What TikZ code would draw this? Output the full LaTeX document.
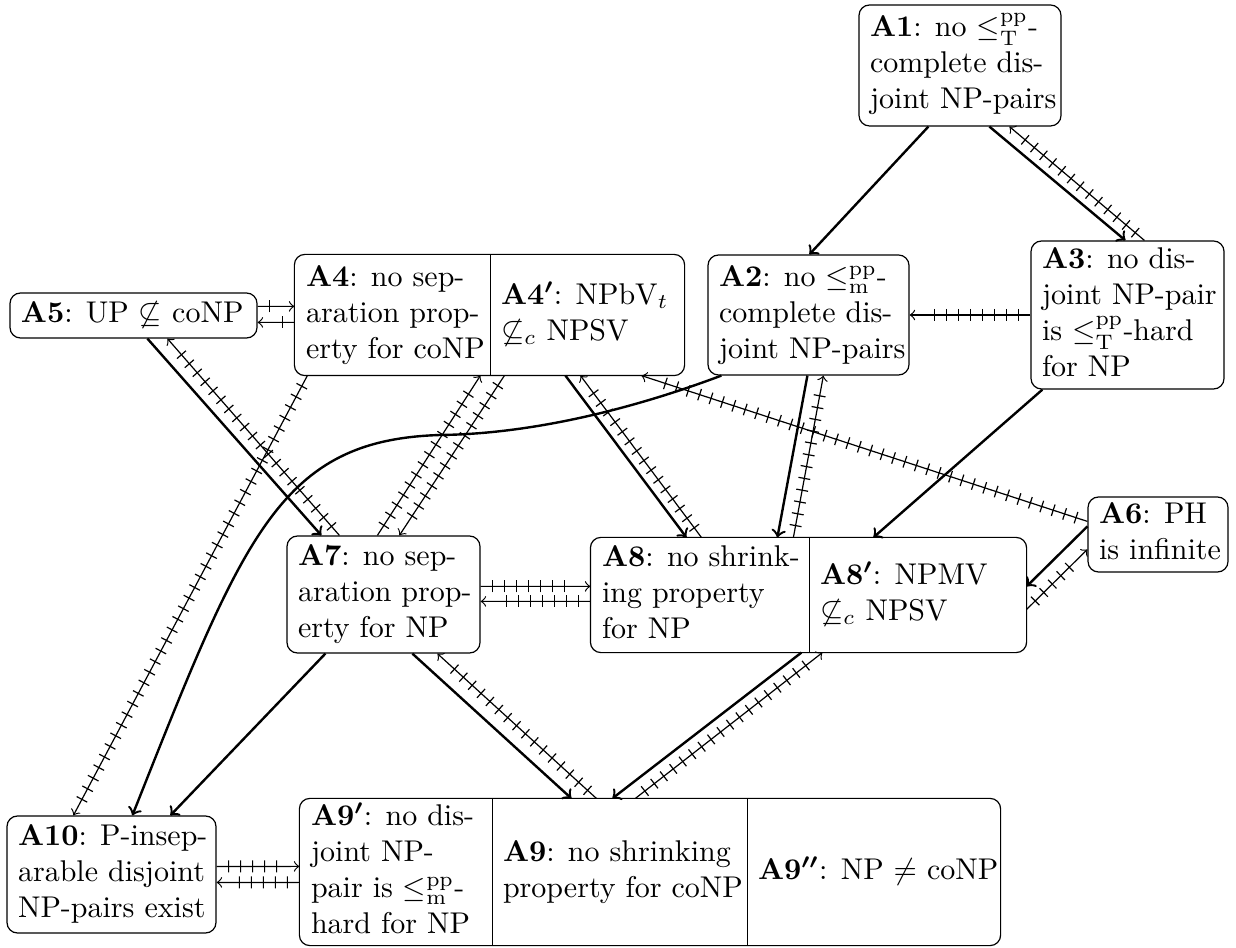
\documentclass[tikz,border=0pt]{standalone}
\usetikzlibrary{calc,decorations.markings}
\newcommand{\bt}[2]{\makebox[#1][l]{\begin{tabular}{@{}l@{}}#2\end{tabular}}}
\newcommand{\lepT}{\le^{\mathrm{pp}}_{\mathrm{T}}}
\newcommand{\lepm}{\le^{\mathrm{pp}}_{\mathrm{m}}}
\tikzset{
  box/.style={draw, rounded corners=3.5pt, inner xsep=3.67pt, inner ysep=0pt},
  part/.style={inner xsep=3.67pt, inner ysep=0pt},
  imp/.style={thick, ->},
  nimp/.style={thin, ->, postaction={decorate},
    decoration={markings, mark=between positions 4pt and -5pt step 4pt with {\draw[thin,-] (0,-2pt) -- (0,2pt);}}},
}
\begin{document}
\begin{tikzpicture}[x=0.33333pt,y=-0.33333pt]
\useasboundingbox (0,0) rectangle (1236,948);
% nodes
\node[box,minimum height=40.33pt] (A1) at (960,65.5) {\bt{60pt}{\textbf{A1}: no $\lepT$-\\complete dis-\\joint NP-pairs}};
\node[box,minimum height=40pt] (A2) at (808.5,315) {\bt{59.67pt}{\textbf{A2}: no $\lepm$-\\complete dis-\\joint NP-pairs}};
\node[box,minimum height=49.33pt] (A3) at (1127.5,315) {\bt{57pt}{\textbf{A3}: no dis-\\joint NP-pair\\is $\lepT$-hard\\for NP}};
\node[part,minimum height=40pt] (A4) at (392.5,315) {\bt{57.67pt}{\textbf{A4}: no sep-\\aration prop-\\erty for coNP}};
\node[part,minimum height=40pt] (A4p) at (587,315) {\bt{57.33pt}{\textbf{A4\boldmath$'$}: NPbV$_t$\\$\not\subseteq_c$ NPSV}};
\draw[rounded corners=3.5pt] (A4.north west) rectangle (A4p.south east);
\draw (A4.north east) -- (A4.south east);
\node[box,minimum height=15pt] (A5) at (133.5,315.5) {\bt{75pt}{\textbf{A5}: UP $\not\subseteq$ coNP}};
\node[box,minimum height=25pt] (A6) at (1158,534.5) {\bt{39.33pt}{\textbf{A6}: PH\\is infinite}};
\node[box,minimum height=39pt] (A7) at (383.5,594.5) {\bt{57pt}{\textbf{A7}: no sep-\\aration prop-\\erty for NP}};
\node[part,minimum height=38pt] (A8) at (700,595) {\bt{65.33pt}{\textbf{A8}: no shrink-\\ing property\\for NP}};
\node[part,minimum height=38pt] (A8p) at (917.5,595) {\bt{65pt}{\textbf{A8\boldmath$'$}: NPMV\\$\not\subseteq_c$ NPSV}};
\draw[rounded corners=3.5pt] (A8.north west) rectangle (A8p.south east);
\draw (A8.north east) -- (A8.south east);
\node[part,minimum height=48.67pt] (A9p) at (396,872) {\bt{56.67pt}{\textbf{A9\boldmath$'$}: no dis-\\joint NP-\\pair is $\lepm$-\\hard for NP}};
\node[part,minimum height=48.67pt] (A9) at (619.5,872) {\bt{77.67pt}{\textbf{A9}: no shrinking\\property for coNP}};
\node[part,minimum height=48.67pt] (A9pp) at (873.5,872) {\bt{77pt}{\textbf{A9\boldmath$''$}: NP $\neq$ coNP}};
\draw[rounded corners=3.5pt] (A9p.north west) rectangle (A9pp.south east);
\draw (A9p.north east) -- (A9p.south east);
\draw (A9.north east) -- (A9.south east);
\node[box,minimum height=39pt] (A10) at (111.5,874.5) {\bt{62.33pt}{\textbf{A10}: P-insep-\\arable disjoint\\NP-pairs exist}};
% connectors
\draw[imp] ($(A1.south west)+(70,0)$) -- ($(A2.north west)+(102,0)$);
\draw[imp] ($(A1.south west)+(131,0)$) -- ($(A3.north west)+(95,0)$);
\draw[nimp] ($(A3.north west)+(114,0)$) -- ($(A1.south west)+(151,0)$);
\draw[nimp] (A3.west) -- (A2.east);
\draw[imp] ($(A3.south west)+(12,0)$) -- ($(A8p.north west)+(65,0)$);
\draw[nimp] ($(A5.north east)+(0,14)$) -- ($(A4.north west)+(0,52)$);
\draw[nimp] ($(A4.north west)+(0,68)$) -- ($(A5.north east)+(0,30)$);
\draw[imp] ($(A5.south west)+(138,0)$) -- ($(A7.north west)+(35,0)$);
\draw[nimp] ($(A7.north west)+(53,0)$) -- ($(A5.south west)+(158,0)$);
\draw[nimp] ($(A4.south west)+(13,0)$) -- ($(A10.north west)+(67,0)$);
\draw[nimp] ($(A7.north west)+(91,0)$) -- ($(A4.south west)+(186,0)$);
\draw[nimp] ($(A4p.south west)+(15,0)$) -- ($(A7.north west)+(113,0)$);
\draw[imp] ($(A4p.south west)+(76,0)$) -- ($(A8.north west)+(96,0)$);
\draw[nimp] ($(A8.north west)+(111,0)$) -- ($(A4p.south west)+(91,0)$);
\draw[nimp] ($(A6.north west)+(0,25)$) -- ($(A4p.south west)+(152,0)$);
\coordinate (bend) at (440,435);
\draw[imp] ($(A2.south west)+(14,0)$) .. controls (630,410) and (530,434) .. (bend) .. controls (280,440) and (244,534) .. ($(A10.north west)+(126,0)$);
\draw[imp] ($(A2.south west)+(100,0)$) -- ($(A8.north west)+(187,0)$);
\draw[nimp] ($(A8.north west)+(203,0)$) -- ($(A2.south west)+(116,0)$);
\draw[imp] ($(A6.north west)+(0,30)$) -- ($(A8p.north east)+(0,49)$);
\draw[nimp] ($(A8p.north east)+(0,72)$) -- ($(A6.north west)+(0,53)$);
\draw[nimp] ($(A7.north east)+(0,51)$) -- ($(A8.north west)+(0,49)$);
\draw[nimp] ($(A8.north west)+(0,64)$) -- ($(A7.north east)+(0,66)$);
\draw[imp] ($(A7.south west)+(39,0)$) -- ($(A10.north west)+(164,0)$);
\draw[imp] ($(A7.south west)+(126,0)$) -- ($(A9.north west)+(80,0)$);
\draw[nimp] ($(A9.north west)+(105,0)$) -- ($(A7.south west)+(151,0)$);
\draw[imp] ($(A8.south west)+(211,0)$) -- ($(A9.north west)+(121,0)$);
\draw[nimp] ($(A9.north west)+(144,0)$) -- ($(A8p.south west)+(14,0)$);
\draw[nimp] ($(A10.north east)+(0,51)$) -- ($(A9p.north west)+(0,68)$);
\draw[nimp] ($(A9p.north west)+(0,84)$) -- ($(A10.north east)+(0,67)$);
\end{tikzpicture}
\end{document}
